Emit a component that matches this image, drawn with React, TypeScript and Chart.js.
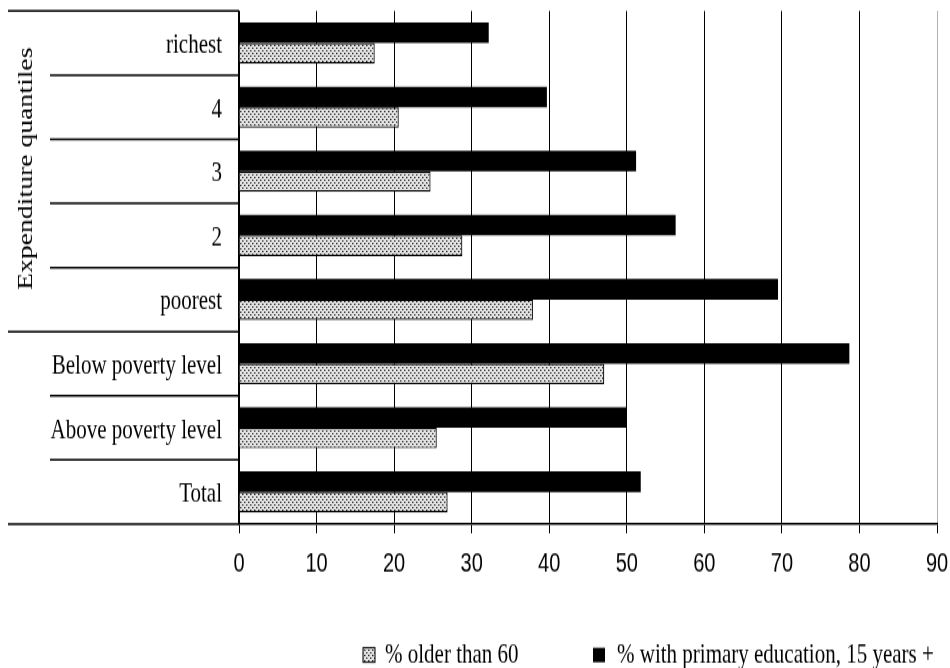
import React, { useEffect, useRef } from 'react';
import { Chart, registerables } from 'chart.js';

Chart.register(...registerables);

// ---- data ----
const categories = ['richest', '4', '3', '2', 'poorest', 'Below poverty level', 'Above poverty level', 'Total'];
const quantileCategories = ['richest', '4', '3', '2', 'poorest'];
const primaryEducation = [32.2, 39.7, 51.2, 56.3, 69.5, 78.7, 49.9, 51.8];
const olderThan60 = [17.5, 20.6, 24.7, 28.8, 37.9, 47.1, 25.5, 26.9];
const xMin = 0;
const xMax = 90;
const xStep = 10;
const seriesLabels = ['% older than 60', '% with primary education, 15 years +'];
const groupTitle = 'Expenditure quantiles';

// ---- layout (canvas drawn at reduced height, stretched vertically like the reference) ----
const W = 950;
const H_CSS = 668;
const H = 506;
const SY = H_CSS / H;
const SERIF = '"Liberation Serif", "Times New Roman", serif';
const SANS = '"Liberation Sans", Arial, sans-serif';

export default function App() {
  const canvasRef = useRef<HTMLCanvasElement | null>(null);

  useEffect(() => {
    const canvas = canvasRef.current;
    if (!canvas) return;
    const ctx2d = canvas.getContext('2d');
    if (!ctx2d) return;

    const tile = document.createElement('canvas');
    tile.width = 4;
    tile.height = 4;
    const tctx = tile.getContext('2d')!;
    tctx.fillStyle = '#e2e2e2';
    tctx.fillRect(0, 0, 4, 4);
    tctx.fillStyle = '#8a8a8a';
    tctx.fillRect(1, 0, 1, 1);
    tctx.fillRect(3, 2, 1, 1);
    tctx.fillStyle = '#2a2a2a';
    tctx.fillRect(0, 0, 1, 1);
    tctx.fillRect(2, 2, 1, 1);
    const stipple = ctx2d.createPattern(tile, 'repeat') as CanvasPattern;

    const decorPlugin = {
      id: 'decor',
      afterDraw(chart: any) {
        const { ctx, chartArea, scales } = chart;
        const y = scales.y;
        const n = categories.length;
        const half = (y.getPixelForValue(1) - y.getPixelForValue(0)) / 2;
        ctx.save();
        ctx.strokeStyle = '#000';
        ctx.lineWidth = 1.5;
        for (let i = 0; i <= n; i++) {
          const py = i < n ? y.getPixelForValue(i) - half : y.getPixelForValue(n - 1) + half;
          const long = i === 0 || i === n || i === quantileCategories.length;
          ctx.beginPath();
          ctx.moveTo(long ? 8 : 50, py);
          ctx.lineTo(chartArea.left, py);
          ctx.stroke();
        }
        // group title
        const gTop = y.getPixelForValue(0) - half;
        const gBot = y.getPixelForValue(quantileCategories.length - 1) + half;
        ctx.save();
        ctx.translate(32, (gTop + gBot) / 2 - 2);
        ctx.rotate(-Math.PI / 2);
        ctx.font = `21px ${SERIF}`;
        ctx.fillStyle = '#000';
        ctx.textAlign = 'center';
        ctx.textBaseline = 'alphabetic';
        ctx.fillText(groupTitle, 0, 0);
        ctx.restore();

        // legend
        const ly = 655 / SY;
        const bh = 11;
        ctx.font = `21px ${SERIF}`;
        ctx.textAlign = 'left';
        ctx.textBaseline = 'middle';
        ctx.fillStyle = stipple;
        ctx.fillRect(363, ly - bh / 2, 12, bh);
        ctx.lineWidth = 1;
        ctx.strokeStyle = '#000';
        ctx.strokeRect(363, ly - bh / 2, 12, bh);
        ctx.fillStyle = '#000';
        ctx.fillText(seriesLabels[0], 385, ly);
        ctx.fillRect(593, ly - bh / 2, 12, bh);
        ctx.fillText(seriesLabels[1], 617, ly);
        ctx.restore();
      },
    };

    const chart = new Chart(canvas, {
      type: 'bar',
      data: {
        labels: categories,
        datasets: [
          {
            label: seriesLabels[1],
            data: primaryEducation,
            backgroundColor: '#000',
            borderWidth: 0,
          },
          {
            label: seriesLabels[0],
            data: olderThan60,
            backgroundColor: stipple,
            borderColor: '#000',
            borderWidth: 1.2,
          },
        ],
      },
      options: {
        indexAxis: 'y',
        responsive: false,
        animation: false,
        devicePixelRatio: 1,
        datasets: { bar: { barPercentage: 1, categoryPercentage: 0.64 } },
        layout: { padding: { top: 11 / SY, right: 13, bottom: H - 524 / SY - 45, left: 0 } },
        plugins: { legend: { display: false }, tooltip: { enabled: false }, title: { display: false } },
        scales: {
          x: {
            type: 'linear',
            position: 'bottom',
            min: xMin,
            max: xMax,
            afterFit: (s: any) => {
              s.height = 45;
              s.paddingLeft = 0;
              s.paddingRight = 0;
            },
            ticks: {
              stepSize: xStep,
              color: '#000',
              padding: 12,
              maxRotation: 0,
              autoSkip: false,
              font: { family: SANS, size: 20 },
            },
            grid: {
              color: (c: any) => (c.tick && c.tick.value === xMax ? '#b0b0b0' : '#000'),
              tickColor: '#000',
              lineWidth: 1,
              drawTicks: true,
              tickLength: 7,
            },
            border: { display: true, color: '#000', width: 1.5 },
          },
          y: {
            type: 'category',
            offset: true,
            afterFit: (s: any) => {
              s.width = 239;
              s.paddingTop = 0;
              s.paddingBottom = 0;
            },
            ticks: {
              color: '#000',
              padding: 17,
              labelOffset: 2,
              autoSkip: false,
              font: { family: SERIF, size: 21 },
            },
            grid: { display: false, drawTicks: false },
            border: { display: true, color: '#000', width: 1.5 },
          },
        },
      },
      plugins: [decorPlugin],
    } as any);

    return () => chart.destroy();
  }, []);

  return (
    <div style={{ position: 'fixed', left: 0, top: 0, width: W, height: H_CSS, background: '#fff' }}>
      <canvas
        ref={canvasRef}
        width={W}
        height={H}
        style={{ display: 'block', width: `${W}px`, height: `${H_CSS}px` }}
      />
    </div>
  );
}
